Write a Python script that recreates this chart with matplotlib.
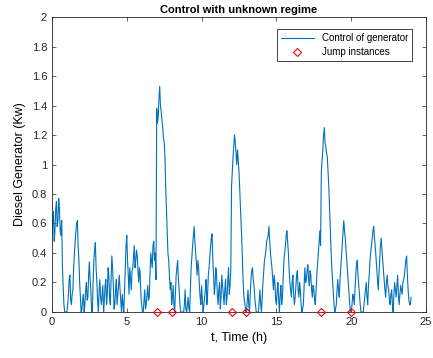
import numpy as np
import matplotlib.pyplot as plt

t = np.round(np.arange(0, 24.01, 0.1), 1)
u = [
    0.50, 0.68, 0.55, 0.75, 0.62, 0.70, 0.52, 0.30, 0.05, 0.00,
    0.00, 0.12, 0.25, 0.05, 0.15, 0.40, 0.55, 0.62, 0.35, 0.10,
    0.02, 0.12, 0.05, 0.20, 0.10, 0.34, 0.15, 0.00, 0.35, 0.47,
    0.20, 0.00, 0.22, 0.05, 0.18, 0.08, 0.22, 0.12, 0.25, 0.05,
    0.38, 0.18, 0.05, 0.22, 0.12, 0.25, 0.08, 0.12, 0.00, 0.30,
    0.52, 0.25, 0.30, 0.15, 0.30, 0.45, 0.35, 0.38, 0.20, 0.25,
    0.05, 0.00, 0.15, 0.05, 0.18, 0.10, 0.40, 0.30, 0.48, 0.40,
    1.38, 1.32, 1.53, 1.36, 1.25, 1.15, 0.85, 0.55, 0.35, 0.15,
    0.05, 0.18, 0.00, 0.25, 0.35, 0.15, 0.00, 0.00, 0.00, 0.15,
    0.00, 0.10, 0.00, 0.30, 0.45, 0.58, 0.40, 0.25, 0.30, 0.10,
    0.18, 0.00, 0.10, 0.22, 0.12, 0.30, 0.45, 0.53, 0.25, 0.18,
    0.25, 0.05, 0.20, 0.10, 0.18, 0.05, 0.22, 0.10, 0.30, 0.18,
    0.85, 1.05, 1.20, 1.08, 1.10, 0.95, 0.70, 0.45, 0.15, 0.05,
    0.00, 0.15, 0.00, 0.22, 0.30, 0.18, 0.05, 0.00, 0.00, 0.15,
    0.00, 0.20, 0.35, 0.42, 0.50, 0.58, 0.40, 0.30, 0.15, 0.20,
    0.05, 0.20, 0.00, 0.18, 0.10, 0.35, 0.45, 0.55, 0.40, 0.20,
    0.10, 0.25, 0.05, 0.18, 0.28, 0.10, 0.15, 0.00, 0.05, 0.30,
    0.22, 0.32, 0.18, 0.25, 0.10, 0.15, 0.05, 0.25, 0.40, 0.55,
    0.95, 1.10, 1.25, 1.12, 1.05, 0.85, 0.55, 0.30, 0.15, 0.00,
    0.05, 0.22, 0.10, 0.30, 0.45, 0.62, 0.50, 0.35, 0.20, 0.05,
    0.00, 0.12, 0.05, 0.25, 0.35, 0.18, 0.05, 0.00, 0.00, 0.10,
    0.20, 0.05, 0.25, 0.40, 0.50, 0.58, 0.45, 0.30, 0.15, 0.35,
    0.50, 0.35, 0.20, 0.10, 0.25, 0.15, 0.05, 0.15, 0.00, 0.20,
    0.10, 0.25, 0.05, 0.18, 0.12, 0.22, 0.30, 0.38, 0.15, 0.05,
    0.10,
]

# values in between, at t + 0.05 h
t_mid = np.round(np.arange(0.05, 24.0, 0.1), 2)
u_mid = [
    0.62, 0.48, 0.70, 0.58, 0.77, 0.55, 0.62, 0.18, 0.00, 0.00,
    0.05, 0.22, 0.08, 0.12, 0.30, 0.48, 0.60, 0.45, 0.20, 0.00,
    0.08, 0.00, 0.15, 0.08, 0.25, 0.22, 0.00, 0.20, 0.42, 0.30,
    0.08, 0.15, 0.10, 0.12, 0.00, 0.18, 0.05, 0.30, 0.10, 0.22,
    0.30, 0.02, 0.15, 0.05, 0.20, 0.15, 0.00, 0.05, 0.15, 0.45,
    0.35, 0.12, 0.22, 0.28, 0.38, 0.30, 0.42, 0.28, 0.30, 0.10,
    0.00, 0.08, 0.02, 0.12, 0.08, 0.25, 0.35, 0.45, 0.35, 0.22,
    1.28, 1.45, 1.40, 1.30, 1.18, 1.05, 0.70, 0.40, 0.25, 0.20,
    0.10, 0.05, 0.12, 0.30, 0.22, 0.05, 0.00, 0.00, 0.05, 0.02,
    0.05, 0.02, 0.15, 0.38, 0.52, 0.48, 0.32, 0.35, 0.18, 0.05,
    0.08, 0.05, 0.15, 0.05, 0.25, 0.38, 0.50, 0.35, 0.12, 0.30,
    0.12, 0.15, 0.02, 0.25, 0.10, 0.15, 0.05, 0.22, 0.12, 0.28,
    0.95, 1.12, 1.15, 1.00, 1.02, 0.82, 0.58, 0.28, 0.08, 0.00,
    0.08, 0.05, 0.12, 0.28, 0.22, 0.10, 0.00, 0.00, 0.08, 0.05,
    0.10, 0.28, 0.38, 0.48, 0.52, 0.48, 0.35, 0.22, 0.25, 0.08,
    0.15, 0.08, 0.12, 0.05, 0.22, 0.40, 0.52, 0.48, 0.28, 0.15,
    0.20, 0.12, 0.10, 0.25, 0.15, 0.20, 0.05, 0.02, 0.18, 0.20,
    0.28, 0.22, 0.28, 0.15, 0.18, 0.08, 0.15, 0.32, 0.48, 0.45,
    1.02, 1.20, 1.15, 1.08, 0.95, 0.70, 0.42, 0.22, 0.05, 0.02,
    0.15, 0.15, 0.22, 0.38, 0.55, 0.55, 0.42, 0.28, 0.12, 0.00,
    0.05, 0.10, 0.15, 0.32, 0.25, 0.10, 0.00, 0.00, 0.05, 0.15,
    0.10, 0.18, 0.35, 0.45, 0.55, 0.50, 0.38, 0.22, 0.25, 0.45,
    0.42, 0.28, 0.15, 0.20, 0.18, 0.08, 0.12, 0.05, 0.12, 0.15,
    0.18, 0.12, 0.12, 0.15, 0.20, 0.25, 0.35, 0.25, 0.08, 0.05,
]

jump_t = [7, 8, 12, 13, 18, 20]
jump_u = [0, 0, 0, 0, 0, 0]

xticks = [0, 5, 10, 15, 20, 25]
yticks = [0, 0.2, 0.4, 0.6, 0.8, 1, 1.2, 1.4, 1.6, 1.8, 2]
ytick_labels = ["0", "0.2", "0.4", "0.6", "0.8", "1", "1.2", "1.4", "1.6", "1.8", "2"]

# merge both samplings into one time-ordered series
t_all = np.concatenate([t, t_mid])
u_all = np.concatenate([u, u_mid])
order = np.argsort(t_all)
t_all, u_all = t_all[order], u_all[order]

plt.rcParams["font.family"] = ["Liberation Sans", "DejaVu Sans"]

fig = plt.figure(figsize=(4.33, 3.58), dpi=100)
ax = fig.add_axes([0.120, 0.1285, 0.864, 0.824])

ax.plot(t_all, u_all, color="#0072BD", lw=0.8, label="Control of generator")
ax.plot(jump_t, jump_u, linestyle="none", marker="D", markersize=4.5,
        markerfacecolor="none", markeredgecolor="red", markeredgewidth=0.8,
        label="Jump instances", clip_on=False, zorder=3)

ax.set_xlim(0, 25)
ax.set_ylim(0, 2)
ax.set_xticks(xticks)
ax.set_yticks(yticks)
ax.set_yticklabels(ytick_labels)
ax.tick_params(direction="in", top=True, right=True, labelsize=8,
               length=3, width=0.5, colors="#262626")
for s in ax.spines.values():
    s.set_linewidth(0.6)
    s.set_color("#262626")

ax.set_title("Control with unknown regime", fontsize=8, fontweight="bold", pad=3)
ax.set_xlabel("t, Time (h)", fontsize=9)
ax.set_ylabel("Diesel Generator (Kw)", fontsize=9)

leg = ax.legend(loc="upper right", fontsize=7, fancybox=False, framealpha=1,
                edgecolor="#262626", borderpad=0.4, handlelength=3.4,
                labelspacing=0.4, bbox_to_anchor=(0.975, 0.975))
leg.get_frame().set_linewidth(0.6)

fig.savefig("out.png", dpi=100)
